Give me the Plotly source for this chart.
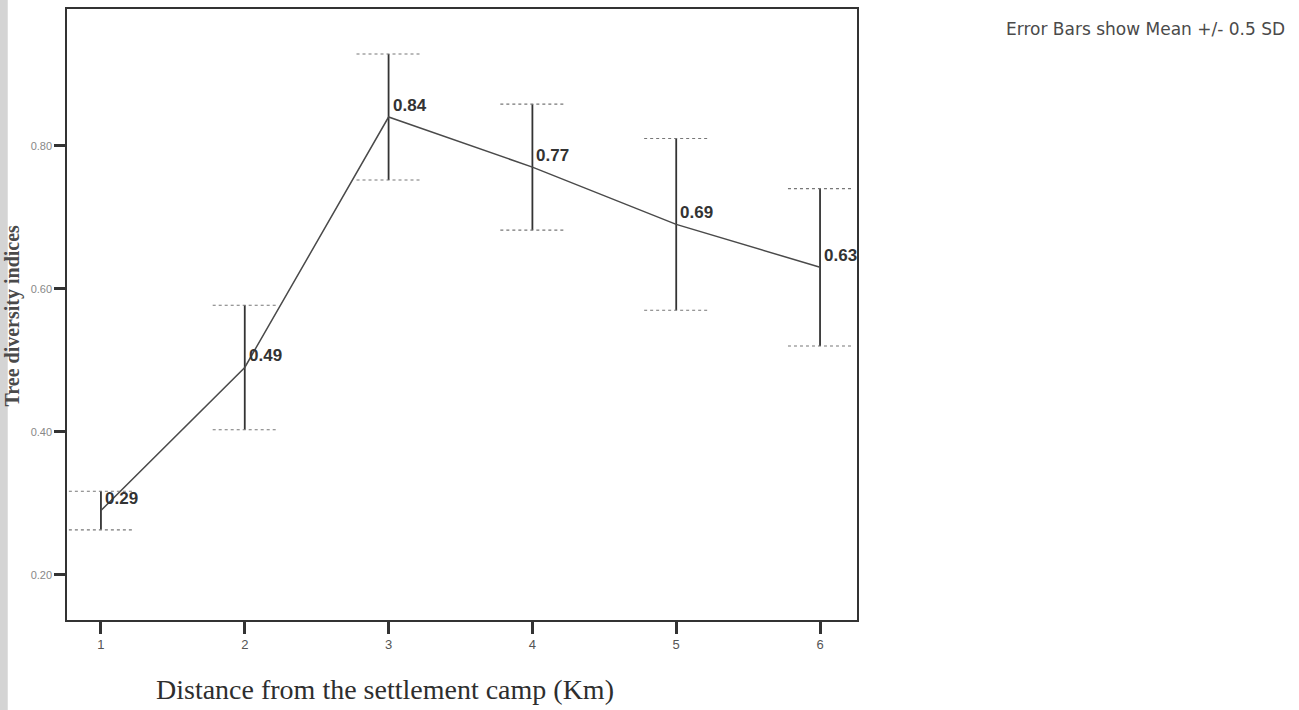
import plotly.graph_objects as go

# Tree diversity by distance from the settlement camp
distance_km = [1, 2, 3, 4, 5, 6]
mean_index = [0.29, 0.49, 0.84, 0.77, 0.69, 0.63]
half_sd = [0.027, 0.087, 0.088, 0.088, 0.12, 0.11]   # 0.5 SD
value_labels = ["0.29", "0.49", "0.84", "0.77", "0.69", "0.63"]
y_ticks = [0.20, 0.40, 0.60, 0.80]
y_tick_text = ["0.20", "0.40", "0.60", "0.80"]

CAP_HALF = 0.223  # half-length of the error-bar caps, in km units
INK = "#333333"

fig = go.Figure()

# mean line
fig.add_trace(go.Scatter(
    x=distance_km, y=mean_index, mode="lines",
    line=dict(color="#4a4a4a", width=1.5),
    error_y=dict(type="data", array=half_sd, visible=True,
                 color=INK, thickness=1.8, width=0),
    hoverinfo="skip", showlegend=False,
))

# dotted caps at both ends of every error bar
for xv, m, h in zip(distance_km, mean_index, half_sd):
    for yv in (m + h, m - h):
        fig.add_trace(go.Scatter(
            x=[xv - CAP_HALF, xv + CAP_HALF], y=[yv, yv], mode="lines",
            line=dict(color="#777777", width=1.1, dash="dot"),
            hoverinfo="skip", showlegend=False,
        ))

# value labels next to each mean
for xv, m, lab in zip(distance_km, mean_index, value_labels):
    fig.add_annotation(
        x=xv, y=m, text=f"<b>{lab}</b>", showarrow=False,
        xanchor="left", yanchor="middle", xshift=2, yshift=12,
        font=dict(family="Liberation Sans, Arial", size=17, color=INK),
    )

fig.add_annotation(
    xref="paper", yref="paper", x=0.4025, y=-0.114,
    text="Distance from the settlement camp (Km)", showarrow=False,
    xanchor="center", yanchor="middle",
    font=dict(family="Liberation Serif, Times New Roman", size=28, color="#2e2e2e"),
)
fig.add_annotation(
    xref="paper", yref="paper", x=-0.0685, y=0.498,
    text="<b>Tree diversity indices</b>", showarrow=False, textangle=-90,
    xanchor="center", yanchor="middle",
    font=dict(family="Liberation Serif, Times New Roman", size=20, color="#4a4a4a"),
)
fig.add_annotation(
    xref="paper", yref="paper", x=1.3646, y=0.967,
    text="Error Bars show Mean +/- 0.5 SD", showarrow=False,
    xanchor="center", yanchor="middle",
    font=dict(family="DejaVu Sans, Verdana", size=17, color="#4a4a4a"),
)

# faint grey strip along the left edge of the page
fig.add_shape(type="rect", xref="paper", yref="paper",
              x0=-0.085, x1=-0.075, y0=-0.15, y1=1.02,
              fillcolor="#d4d4d4", line_width=0, layer="below")

fig.update_xaxes(
    range=[0.764, 6.257], tickvals=distance_km,
    ticktext=[str(d) for d in distance_km],
    ticks="outside", ticklen=12, tickwidth=3, tickcolor=INK,
    showline=True, linecolor=INK, linewidth=1.5, mirror=True,
    showgrid=False, zeroline=False,
    tickfont=dict(family="Liberation Sans Narrow, Arial", size=13, color="#555555"),
)
fig.update_yaxes(
    range=[0.137, 0.991], tickvals=y_ticks, ticktext=y_tick_text,
    ticks="outside", ticklen=11, tickwidth=3, tickcolor=INK,
    showline=True, linecolor=INK, linewidth=1.5, mirror=True,
    showgrid=False, zeroline=False,
    tickfont=dict(family="Liberation Sans Narrow, Arial", size=11, color="#888888"),
)

fig.update_layout(
    width=1299, height=710,
    margin=dict(l=67, r=442, t=7, b=90),
    paper_bgcolor="white", plot_bgcolor="white",
    showlegend=False,
)

fig.write_html("out.html")
